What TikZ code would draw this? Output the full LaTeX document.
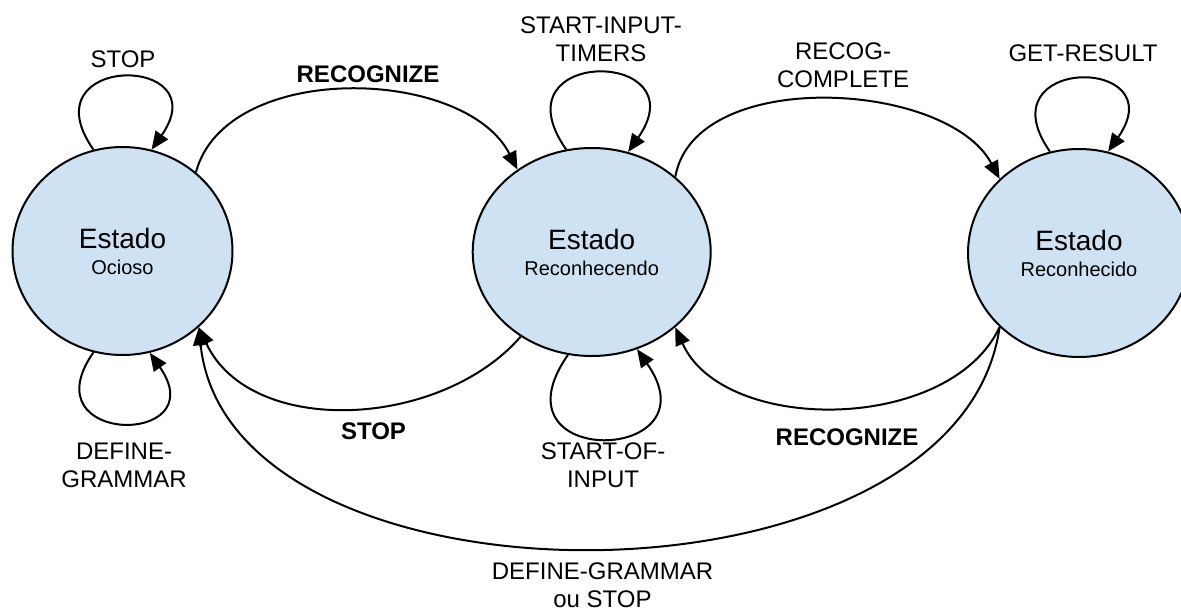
\documentclass[tikz,border=0pt]{standalone}
\usepackage{fontspec}
\setmainfont{Liberation Sans}
\usetikzlibrary{arrows.meta, shapes.geometric}
\definecolor{estadoazul}{RGB}{207,226,243}

\begin{document}
\begin{tikzpicture}[x=0.5pt, y=-0.5pt,
        estado/.style={ellipse, draw, line width=1pt, fill=estadoazul, inner sep=0pt,
            minimum height=104pt, align=center, font=\fontsize{10}{13}\selectfont},
        rotulo/.style={align=center, font=\fontsize{12}{14}\selectfont},
        negrito/.style={align=center, font=\fontsize{12}{14}\selectfont\bfseries},
        transicao/.style={line width=1pt, -{Triangle[length=9pt, width=7.5pt]}}]

        \useasboundingbox (0,0) rectangle (1181,611);

        % States
        \node[estado, minimum width=110pt] (ocioso) at (122.5,251)
            {{\fontsize{14}{16}\selectfont Estado}\\Ocioso};
        \node[estado, minimum width=119pt] (reconhecendo) at (591.7,252)
            {{\fontsize{14}{16}\selectfont Estado}\\Reconhecendo};
        \node[estado, minimum width=111pt] (reconhecido) at (1079,253)
            {{\fontsize{14}{16}\selectfont Estado}\\Reconhecido};

        % Self loops
        \draw[transicao] (ocioso.106) to[out=125, in=55, looseness=5.2] (ocioso.74);
        \draw[transicao] (ocioso.-106) to[out=-125, in=-55, looseness=5.2] (ocioso.-75);
        \draw[transicao] (reconhecendo.104) to[out=125, in=55, looseness=5.2] (reconhecendo.70);
        \draw[transicao] (reconhecendo.-103) to[out=-125, in=-55, looseness=5.2] (reconhecendo.-65);
        \draw[transicao] (reconhecido.106) to[out=125, in=55, looseness=5.2] (reconhecido.74);

        % Transitions between states
        \draw[transicao] (ocioso.47) to[out=75, in=117, looseness=0.92] (reconhecendo.132);
        \draw[transicao] (reconhecendo.42) to[out=80, in=118, looseness=0.88] (reconhecido.137);
        \draw[transicao] (reconhecendo.-130) to[out=229, in=-65, looseness=0.97] (ocioso.-45);
        \draw[transicao] (reconhecido.-137) to[out=245, in=-66, looseness=0.93] (reconhecendo.-42);
        \draw[transicao] (reconhecido.-137) to[out=262, in=-84, looseness=0.95] (ocioso.-45);

        % Labels
        \node[rotulo] (r-stop) at (123,59) {STOP};
        \node[negrito] (r-recognize) at (368,74) {RECOGNIZE};
        \node[rotulo] (r-timers) at (601,39) {START-INPUT-\\TIMERS};
        \node[rotulo] (r-complete) at (843,65) {RECOG-\\COMPLETE};
        \node[rotulo] (r-result) at (1083,53.5) {GET-RESULT};
        \node[rotulo] (r-grammar) at (124,465) {DEFINE-\\GRAMMAR};
        \node[negrito] (r-stop2) at (373.5,431.5) {STOP};
        \node[rotulo] (r-input) at (603,465) {START-OF-\\INPUT};
        \node[negrito] (r-recognize2) at (847,437) {RECOGNIZE};
        \node[rotulo] (r-ou) at (602.5,585) {DEFINE-GRAMMAR\\ou STOP};
    \end{tikzpicture}
\end{document}
